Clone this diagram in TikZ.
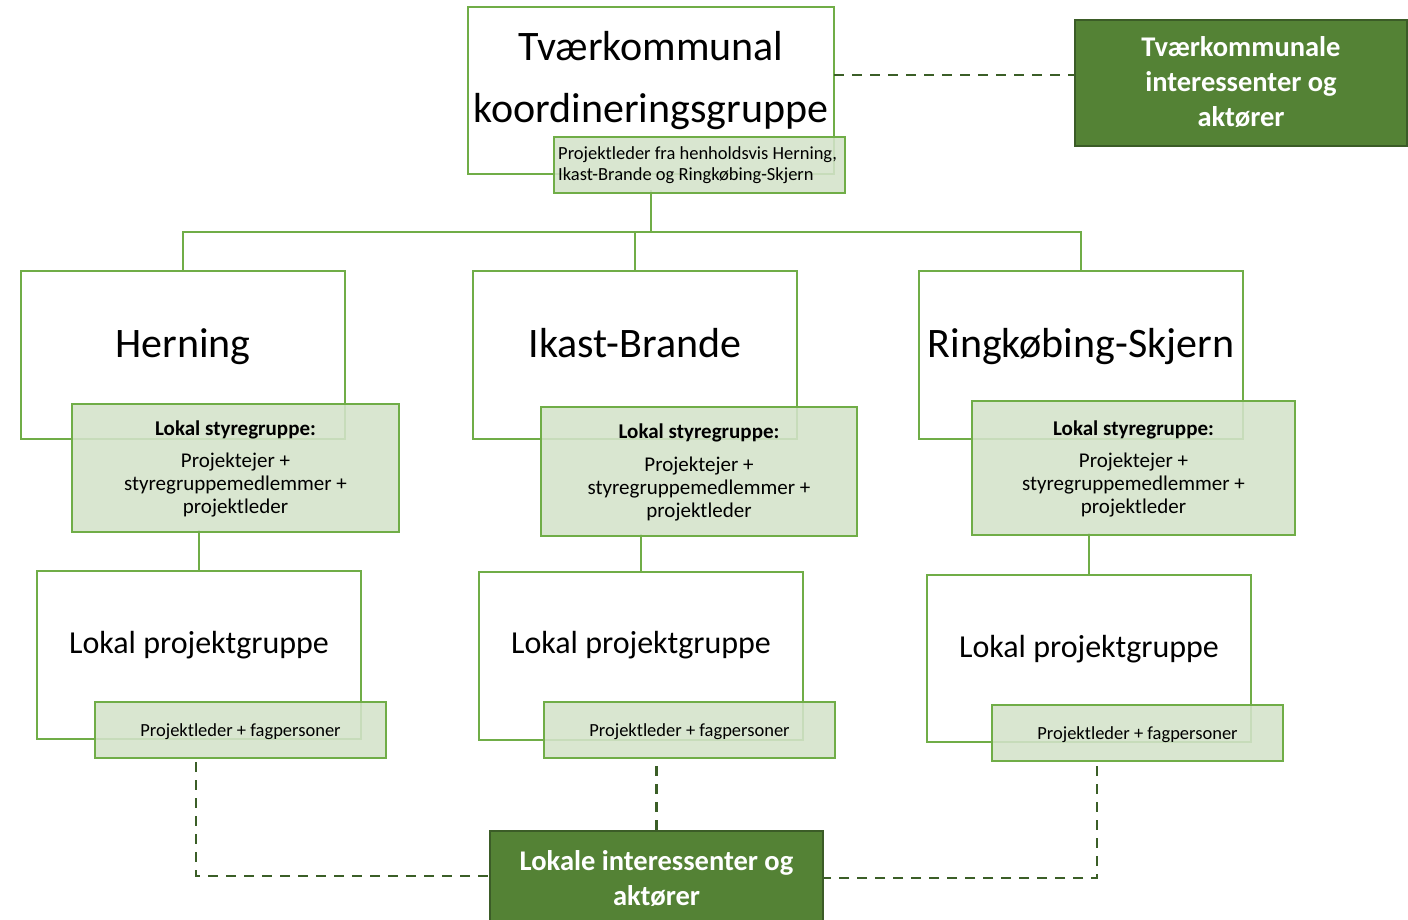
\documentclass[tikz,border=0pt]{standalone}
\usepackage{fontspec}
\setmainfont{Carlito}
\definecolor{lgreen}{HTML}{70AD47}
\definecolor{gfill}{HTML}{D4E3CA}
\definecolor{dgreen}{HTML}{548235}
\definecolor{dborder}{HTML}{3B5C27}
\definecolor{dline}{HTML}{3B5E27}
\tikzset{
  wbox/.style={draw=lgreen, line width=2.75pt, fill=white, inner sep=0pt, outer sep=0pt, anchor=north west},
  gbox/.style={draw=lgreen, line width=2.75pt, fill=gfill, fill opacity=0.88, inner sep=0pt, outer sep=0pt, anchor=north west},
  dbox/.style={draw=dborder, line width=2.75pt, fill=dgreen, inner sep=0pt, outer sep=0pt, anchor=north west},
  tree/.style={draw=lgreen, line width=2.75pt},
  dline/.style={draw=dline, line width=2.6pt, dash pattern=on 10pt off 8pt},
  bigt/.style={font=\fontsize{42}{62}\selectfont, inner sep=0pt, anchor=base},
  projt/.style={font=\fontsize{32}{38}\selectfont, inner sep=0pt, anchor=base},
  subt/.style={font=\fontsize{21}{23}\selectfont, inner sep=0pt, anchor=base},
  subb/.style={font=\fontsize{21}{23}\selectfont\bfseries, inner sep=0pt, anchor=base},
  smallt/.style={font=\fontsize{18.5}{21}\selectfont, inner sep=0pt, anchor=base},
  darkt/.style={font=\fontsize{28.5}{35}\selectfont\bfseries, text=white, inner sep=0pt, anchor=base},
}
\begin{document}
\begin{tikzpicture}[x=1pt, y=-1pt]
\useasboundingbox (0,0) rectangle (1408,920);
\clip (0,0) rectangle (1408,920);
\fill[white] (0,0) rectangle (1408,920);

% coordinates for connector corners
\coordinate (bus) at (651,232);
\coordinate (dtop) at (1075,75);
\coordinate (lcorner) at (196,876);
\coordinate (rcorner) at (1097,878);

% white boxes
\node[wbox, minimum width=366pt, minimum height=167pt] (top) at (468,7) {};
\node[wbox, minimum width=324pt, minimum height=168pt] (her) at (21,271) {};
\node[wbox, minimum width=324pt, minimum height=168pt] (ika) at (473,271) {};
\node[wbox, minimum width=324pt, minimum height=168pt] (rin) at (919,271) {};
\node[wbox, minimum width=324pt, minimum height=168pt] (herproj) at (37,571) {};
\node[wbox, minimum width=324pt, minimum height=168pt] (ikaproj) at (479,572) {};
\node[wbox, minimum width=324pt, minimum height=167pt] (rinproj) at (927,575) {};

% dark boxes
\node[dbox, minimum width=332pt, minimum height=126pt] (tr) at (1075,20) {};
\node[dbox, minimum width=333pt, minimum height=130pt] (bot) at (490,831) {};

% tree connectors
\draw[tree] (her.north) |- (bus) -| (rin.north);
\draw[tree] (ika.north) -- (ika.north |- bus);
\draw[tree] (top.center |- bus) -- (top.center |- 0,190);
\draw[tree] (herproj.north) -- (herproj.north |- 0,530);
\draw[tree] (ikaproj.north) -- (ikaproj.north |- 0,534);
\draw[tree] (rinproj.north) -- (rinproj.north |- 0,533);

% translucent sub boxes
\node[gbox, minimum width=291pt, minimum height=56pt] (topsub) at (554,137) {};
\node[gbox, minimum width=327pt, minimum height=128pt] (hersub) at (72,404) {};
\node[gbox, minimum width=316pt, minimum height=129pt] (ikasub) at (541,407) {};
\node[gbox, minimum width=323pt, minimum height=134pt] (rinsub) at (972,401) {};
\node[gbox, minimum width=291pt, minimum height=56pt] (herprojsub) at (95,702) {};
\node[gbox, minimum width=291pt, minimum height=56pt] (ikaprojsub) at (544,702) {};
\node[gbox, minimum width=291pt, minimum height=56pt] (rinprojsub) at (992,705) {};

% dashed connectors
\draw[dline] ([yshift=-4pt]herprojsub.south -| lcorner) -- (lcorner) -- (bot.west |- lcorner);
\draw[dline] ([yshift=-8pt]ikaprojsub.south -| bot.north) -- (bot.north);
\draw[dline] ([yshift=-5pt]rinprojsub.south -| rcorner) -- (rcorner) -- (bot.east |- rcorner);
\draw[dline] (top.east |- dtop) -- (dtop);

% texts
\node[bigt] (topt1) at (651,61) {Tværkommunal};
\node[bigt] (topt2) at (651,123) {koordineringsgruppe};
\node[smallt, anchor=base west] (topsubt1) at (558,160) {Projektleder fra henholdsvis Herning,};
\node[smallt, anchor=base west] (topsubt2) at (558,181) {Ikast-Brande og Ringkøbing-Skjern};

\node[darkt] (trt1) at (1241,57) {Tværkommunale};
\node[darkt] (trt2) at (1241,92) {interessenter og};
\node[darkt] (trt3) at (1241,127) {aktører};

\node[bigt] (hert) at (183,357) {Herning};
\node[bigt] (ikat) at (635,357) {Ikast-Brande};
\node[bigt] (rint) at (1081,357) {Ringkøbing-Skjern};

\node[subb] (hers1) at (235.5,435) {Lokal styregruppe:};
\node[subt] (hers2) at (235.5,467) {Projektejer +};
\node[subt] (hers3) at (235.5,490) {styregruppemedlemmer +};
\node[subt] (hers4) at (235.5,513) {projektleder};

\node[subb] (ikas1) at (699,438) {Lokal styregruppe:};
\node[subt] (ikas2) at (699,471) {Projektejer +};
\node[subt] (ikas3) at (699,494) {styregruppemedlemmer +};
\node[subt] (ikas4) at (699,517) {projektleder};

\node[subb] (rins1) at (1133.5,435) {Lokal styregruppe:};
\node[subt] (rins2) at (1133.5,467) {Projektejer +};
\node[subt] (rins3) at (1133.5,490) {styregruppemedlemmer +};
\node[subt] (rins4) at (1133.5,513) {projektleder};

\node[projt] (herpt) at (199,653) {Lokal projektgruppe};
\node[projt] (ikapt) at (641,653) {Lokal projektgruppe};
\node[projt] (rinpt) at (1089,657) {Lokal projektgruppe};

\node[smallt] (herpst) at (240.5,736) {Projektleder + fagpersoner};
\node[smallt] (ikapst) at (689.5,736) {Projektleder + fagpersoner};
\node[smallt] (rinpst) at (1137.5,739) {Projektleder + fagpersoner};

\node[darkt] (bott1) at (656.5,870) {Lokale interessenter og};
\node[darkt] (bott2) at (656.5,905) {aktører};
\end{tikzpicture}
\end{document}
